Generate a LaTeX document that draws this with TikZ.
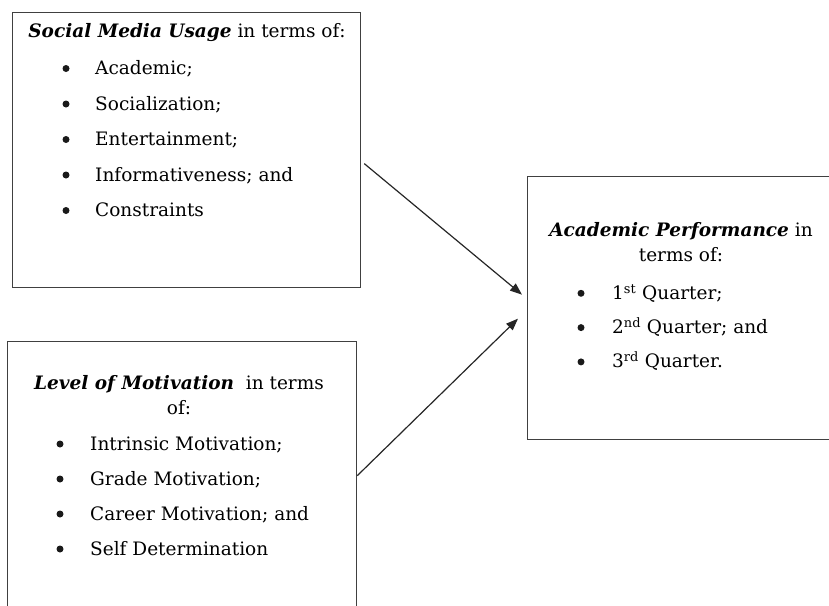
\documentclass[tikz,border=0pt]{standalone}
\usepackage{fontspec}
\setmainfont{DejaVu Serif}
\usetikzlibrary{arrows.meta}

\tikzset{
  frame/.style={draw=black!75,line width=1.3pt,inner sep=0pt,anchor=north west},
  head/.style={anchor=base,inner sep=0pt,font=\fontsize{18.5}{22}\selectfont},
  item/.style={anchor=base west,inner sep=0pt,font=\fontsize{18.5}{22}\selectfont},
  dot/.style={circle,fill=black!90,inner sep=0pt,minimum size=7pt},
  link/.style={-{Triangle[length=12pt,width=9pt]},line width=1.2pt,black!85}
}
\newcommand{\bi}[1]{\textbf{\textit{#1}}}

\begin{document}
\begin{tikzpicture}[x=1pt,y=-1pt]
\useasboundingbox (0,0) rectangle (829,605);
% the three boxes
\node[frame,minimum width=348pt,minimum height=275pt] (smu) at (12,12) {};
\node[frame,minimum width=349pt,minimum height=268pt] (mot) at (7,341) {};
\node[frame,minimum width=308pt,minimum height=263pt] (ap) at (527,176) {};
% social media usage
\node[head] (smu-t) at (187,37.5) {\bi{Social Media Usage} in terms of:};
\foreach \txt [count=\i] in {Academic;,Socialization;,Entertainment;,Informativeness; and,Constraints}{
  \node[dot] (smu-b\i) at (66,{33+35.5*\i}) {};
  \node[item] (smu-\i) at (95,{39+35.5*\i}) {\txt};
}
% level of motivation
\node[head] (mot-t1) at (179,389) {\bi{Level of Motivation}\ \ in terms};
\node[head] (mot-t2) at (179,414) {of:};
\foreach \txt [count=\i] in {Intrinsic Motivation;,Grade Motivation;,Career Motivation; and,Self Determination}{
  \node[dot] (mot-b\i) at (60,{409+35*\i}) {};
  \node[item] (mot-\i) at (90,{415+35*\i}) {\txt};
}
% academic performance
\node[head] (ap-t1) at (681,236.5) {\bi{Academic Performance} in};
\node[head] (ap-t2) at (681,261.5) {terms of:};
\foreach \txt [count=\i] in {1\textsuperscript{st} Quarter;,2\textsuperscript{nd} Quarter; and,3\textsuperscript{rd} Quarter.}{
  \node[dot] (ap-b\i) at (581,{259+34.3*\i}) {};
  \node[item] (ap-\i) at (612,{265+34.3*\i}) {\txt};
}
% connectors
\draw[link] ([xshift=3pt,yshift=-13.5pt]smu.east) -- ([xshift=-5pt,yshift=13.5pt]ap.west);
\draw[link] (mot.east) -- ([xshift=-9pt,yshift=-10.5pt]ap.west);
\end{tikzpicture}
\end{document}
